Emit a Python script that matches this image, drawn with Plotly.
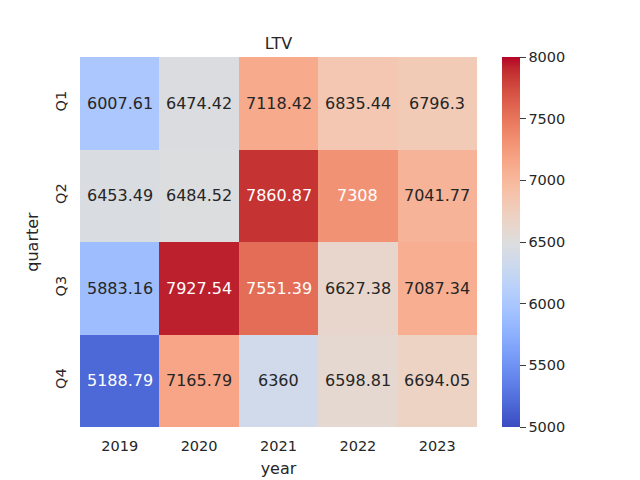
import plotly.graph_objects as go

years = ["2019", "2020", "2021", "2022", "2023"]
quarters = ["Q1", "Q2", "Q3", "Q4"]
ltv_q1 = [6007.61, 6474.42, 7118.42, 6835.44, 6796.3]
ltv_q2 = [6453.49, 6484.52, 7860.87, 7308, 7041.77]
ltv_q3 = [5883.16, 7927.54, 7551.39, 6627.38, 7087.34]
ltv_q4 = [5188.79, 7165.79, 6360, 6598.81, 6694.05]
z = [ltv_q1, ltv_q2, ltv_q3, ltv_q4]

# matplotlib coolwarm
cw = [(59,76,192),(68,90,204),(77,104,215),(87,117,225),(98,130,234),(108,142,241),
      (119,154,247),(130,165,251),(141,176,254),(152,185,255),(163,194,255),(174,201,253),
      (184,208,249),(194,213,244),(204,217,238),(213,219,230),(221,221,221),(229,216,209),
      (236,211,197),(241,204,185),(245,196,173),(247,187,160),(247,177,148),(247,166,135),
      (244,154,123),(241,141,111),(236,127,99),(229,112,88),(222,96,77),(213,80,66),
      (203,62,56),(192,40,47),(180,4,38)]
colorscale = [[i / (len(cw) - 1), "rgb(%d,%d,%d)" % c] for i, c in enumerate(cw)]
vmin, vmax = 5000, 8000

fig = go.Figure(go.Heatmap(
    z=z, x=years, y=quarters, zmin=vmin, zmax=vmax, colorscale=colorscale,
    colorbar=dict(
        x=(502 - 80) / 397, xanchor="left", xpad=0, ypad=0, y=0.5, yanchor="middle",
        len=1, lenmode="fraction",
        thickness=18, outlinewidth=0, ticks="outside", ticklen=6, tickwidth=1.3,
        tickcolor="#3d3d3d", tickvals=[5000, 5500, 6000, 6500, 7000, 7500, 8000],
        tickfont=dict(size=14.5, color="#262626"),
    ),
))

def lum(v):
    t = (v - vmin) / (vmax - vmin)
    t = min(max(t, 0), 1) * (len(cw) - 1)
    i = min(int(t), len(cw) - 2)
    f = t - i
    rgb = [(cw[i][k] * (1 - f) + cw[i + 1][k] * f) / 255 for k in range(3)]
    lin = [c / 12.92 if c <= 0.04045 else ((c + 0.055) / 1.055) ** 2.4 for c in rgb]
    return 0.2126 * lin[0] + 0.7152 * lin[1] + 0.0722 * lin[2]

# category axes: annotations positioned by category index
for qi in range(len(quarters)):
    for yi in range(len(years)):
        v = z[qi][yi]
        fig.add_annotation(x=yi, y=qi, text=f"{v:g}", showarrow=False,
                           font=dict(size=16, color="white" if lum(v) < 0.408 else "#262626"))

fig.update_layout(
    width=640, height=480,
    margin=dict(l=80, r=163, t=57, b=53, autoexpand=False),
    paper_bgcolor="white", plot_bgcolor="white",
    font=dict(family="DejaVu Sans", color="#262626"),
    title=dict(text="LTV", x=(80 + 477) / 2 / 640, xanchor="center", y=1 - 43 / 480,
               yanchor="middle", font=dict(size=16, color="#262626")),
    showlegend=False,
)
fig.update_xaxes(type="category", title=dict(text="year", font=dict(size=16), standoff=10),
                 tickfont=dict(size=14.5), ticklabelstandoff=8,
                 showgrid=False, zeroline=False, ticks="")
fig.update_yaxes(type="category", title=dict(text="quarter", font=dict(size=16), standoff=10),
                 tickfont=dict(size=14.5), ticklabelstandoff=10, tickangle=-90,
                 autorange="reversed", showgrid=False, zeroline=False, ticks="")

fig.write_html("out.html", post_script="document.body.style.margin='0';",
               config={"displayModeBar": False})
